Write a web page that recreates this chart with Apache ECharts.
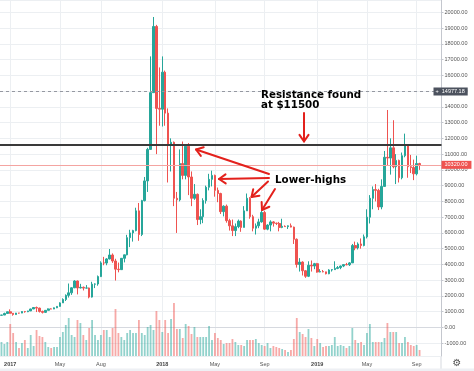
<!DOCTYPE html>
<html><head><meta charset="utf-8">
<script src="https://cdn.jsdelivr.net/npm/echarts@6/dist/echarts.min.js"></script>
<style>html,body{margin:0;padding:0;background:#fff}#c{width:474px;height:371px}</style>
</head><body><div id="c"></div>
<script>
// Weekly BTC/USD candles, first week starting 2016-12-12
const firstWeek = '2016-12-12';
const opens = [777,790,890,998,905,820,920,915,1015,998,1050,1175,1270,1230,1020,960,1090,1180,1170,1250,
1340,1560,1780,2040,2200,2520,2950,2510,2550,2500,2510,1930,2750,2760,3230,4100,4090,4350,4600,4220,
3700,3670,4390,4610,5700,6000,6150,7400,5900,8050,9300,11300,14900,19100,13900,13850,16200,13600,11600,11750,
8200,8100,10400,9650,11500,9550,8200,8450,6850,7030,8050,8900,9400,9650,8700,8500,7350,7700,6780,6450,
6150,6400,6750,6350,7400,8200,7030,6300,6450,6700,7300,6240,6500,6700,6620,6600,6350,6420,6400,6450,
6370,5600,4000,4150,3600,3250,3950,3900,4050,3520,3550,3530,3410,3650,3670,3750,3800,3900,3990,3980,
4100,5200,5050,5300,5200,5750,7000,8200,8750,8700,7650,8950,10800,10750,11400,10200,10600,9500,10900,11550,
10200,10150,9750,10400];
const highs = [800,940,1000,1150,910,925,925,1035,1050,1060,1190,1290,1330,1260,1070,1100,1210,1220,1270,1350,
1600,1850,2100,2790,2550,3000,2980,2770,2600,2690,2530,2900,2800,3300,4200,4480,4400,4980,4700,4360,
4120,4400,4620,5880,6200,6200,7600,7900,8100,9550,11400,17200,19700,19200,16500,17200,16300,13900,12000,11800,
8600,11300,11800,11600,11700,9900,9100,8500,7500,8200,9000,9750,9950,9700,8880,8550,7750,7800,6900,6850,
6600,6850,6800,7700,8500,8270,7150,6600,6900,7400,7400,6550,6800,6750,6650,6700,6900,6480,6480,6600,
6400,5650,4400,4200,3650,4200,4250,4100,4100,3700,3650,3540,3700,3700,4200,3900,3930,4000,4100,4150,
5300,5450,5400,5650,5900,7500,8400,8950,9100,8800,9400,11200,13800,12000,13150,11000,10650,11100,12300,11600,
10950,10650,10900,10450];
const lows = [765,790,880,880,750,815,880,910,940,975,1050,1170,980,950,890,920,1090,1160,1165,1230,
1330,1560,1680,1900,2070,2500,2100,2480,2350,2480,1850,1900,2500,2650,3200,3950,3950,4320,4100,2980,
3500,3660,4130,4580,5100,5450,6100,5500,5800,8000,8600,11300,14900,11000,12800,12750,12800,9200,9900,7700,
6000,8000,9400,9400,8400,7700,8100,6500,6550,6620,7860,8700,8950,8300,7950,7200,7050,6650,6150,5800,
5800,6300,6070,6350,7400,6900,6100,5900,6300,6650,6200,6170,6100,6400,6500,6100,6300,6380,6250,6350,
5300,3800,3550,3300,3150,3200,3550,3700,3480,3500,3500,3370,3380,3550,3650,3700,3700,3830,3950,3900,
4100,4900,4950,5000,5150,5650,6600,7500,8000,7450,7500,8950,10300,9700,10100,9100,9200,9400,10800,9500,
9800,9350,9650,10000];
const closes = [790,890,998,905,820,920,915,1015,998,1050,1175,1270,1230,1020,960,1090,1180,1170,1250,1340,
1560,1780,2040,2200,2520,2950,2510,2550,2500,2510,1930,2750,2760,3230,4100,4090,4350,4600,4220,3700,
3670,4390,4610,5700,6000,6150,7400,5900,8050,9300,11300,14900,19100,13900,13850,16200,13600,11600,11750,8200,
8100,10400,9650,11500,9550,8200,8450,6850,7030,8050,8900,9400,9650,8700,8500,7350,7700,6780,6450,6150,
6400,6750,6350,7400,8200,7030,6300,6450,6700,7300,6240,6500,6700,6620,6600,6350,6420,6400,6450,6370,
5600,4000,4150,3600,3250,3950,3900,4050,3520,3550,3530,3410,3650,3670,3750,3800,3900,3990,3980,4100,
5200,5050,5300,5200,5750,7000,8200,8750,8700,7650,8950,10800,10750,11400,10200,10600,9500,10900,11550,10200,
10150,9750,10400,10320];
// volume (relative units)
const volumes = [14,12,14,32,23,14,8,13,16,8,21,10,26,20,19,14,9,8,9,9,
19,24,31,38,21,19,36,33,21,16,28,36,21,16,21,26,26,19,28,47,
23,19,16,23,26,23,23,36,23,21,29,31,26,45,36,24,36,23,37,53,
27,27,18,32,30,22,29,19,19,19,19,30,16,23,18,16,12,13,13,17,
14,11,11,10,16,16,16,17,13,11,10,13,8,10,9,8,7,6,4,6,
17,38,24,22,19,27,18,10,17,13,9,10,10,11,19,10,11,10,8,10,
28,16,13,14,11,23,32,14,14,14,14,18,33,24,24,24,13,13,19,14,
11,10,11,6];
const tickLabels = [['2017-01-02','2017'],['2017-05-01','May'],['2017-08-07','Aug'],['2018-01-01','2018'],
['2018-05-07','May'],['2018-09-03','Sep'],['2019-01-07','2019'],['2019-05-06','May'],['2019-09-02','Sep']];
const resistanceLevel = 11600;
const crosshairPrice = 14977.18;
const lastPrice = 10320;
const emptyWeeksAfter = 7;

const UP = '#26a69a', DOWN = '#ef5350';
const dates = [];
const t0 = Date.UTC(2016, 11, 12);
for (let i = 0; i < opens.length + emptyWeeksAfter; i++) {
  dates.push(new Date(t0 + i * 7 * 86400000).toISOString().slice(0, 10));
}
const tickMap = new Map(tickLabels);
const ohlc = opens.map((o, i) => [o, closes[i], lows[i], highs[i]]);
const vol = volumes.map((v, i) => ({
  value: v,
  itemStyle: { color: closes[i] >= opens[i] ? 'rgba(38,166,154,0.5)' : 'rgba(239,83,80,0.5)' }
}));
const isTick = (idx, val) => tickMap.has(val);

const ARROW = '#e3211c';
function arrow(x1, y1, x2, y2) {
  const a = Math.atan2(y2 - y1, x2 - x1), L = 8, s = 0.6;
  const st = { stroke: ARROW, lineWidth: 2, fill: null, lineCap: 'round', lineJoin: 'round' };
  return [
    { type: 'polyline', shape: { points: [[x1, y1], [x2, y2]] }, style: st, z: 100 },
    { type: 'polyline', shape: { points: [
      [x2 - L * Math.cos(a - s), y2 - L * Math.sin(a - s)], [x2, y2],
      [x2 - L * Math.cos(a + s), y2 - L * Math.sin(a + s)]] }, style: st, z: 100 }
  ];
}

const chart = echarts.init(document.getElementById('c'));
chart.setOption({
  animation: false,
  backgroundColor: '#ffffff',
  grid: { left: -2.5, right: 32.5, top: 0, bottom: 15, containLabel: false },
  xAxis: {
    type: 'category', data: dates, boundaryGap: true,
    axisLine: { show: true, lineStyle: { color: '#d6d9df' } },
    axisTick: { show: false, alignWithLabel: true, interval: isTick },
    axisLabel: {
      interval: isTick, margin: 5, fontSize: 5.5, color: '#555', fontFamily: 'Liberation Sans',
      formatter: v => { const t = tickMap.get(v) || ''; return /^\d{4}$/.test(t) ? '{y|' + t + '}' : t; },
      rich: { y: { fontSize: 5.5, fontWeight: 'bold', color: '#444', fontFamily: 'Liberation Sans' } }
    },
    splitLine: { show: true, interval: isTick, alignWithLabel: true, lineStyle: { color: '#eceff2', width: 1 } }
  },
  yAxis: [{
    type: 'value', position: 'right', min: -1808, max: 20778, splitNumber: 22,
    axisLine: { show: true, lineStyle: { color: '#c4c7ce' } },
    axisTick: { show: true, length: 2, lineStyle: { color: '#c4c7ce' } },
    axisLabel: { fontSize: 5.5, color: '#555', margin: 3, fontFamily: 'Liberation Sans',
      showMinLabel: false, showMaxLabel: false, formatter: v => v.toFixed(2) },
    splitLine: { show: true, lineStyle: { color: '#eceff2', width: 1 } }
  }, {
    type: 'value', min: 0, max: 356, show: false, splitLine: { show: false }
  }],
  series: [{
    type: 'bar', yAxisIndex: 1, data: vol, barWidth: '62%', silent: true
  }, {
    type: 'candlestick', data: ohlc, barWidth: '70%', silent: true,
    itemStyle: { color: UP, color0: DOWN, borderColor: UP, borderColor0: DOWN, borderWidth: 1 },
    markLine: {
      symbol: ['none', 'none'], silent: true, animation: false,
      data: [
        { yAxis: lastPrice, lineStyle: { color: '#f4a4a1', width: 1, type: 'solid' },
          label: { show: true, position: 'end', distance: 0, formatter: lastPrice.toFixed(2),
            backgroundColor: DOWN, color: '#fff', fontSize: 5.5, fontFamily: 'Liberation Sans', padding: [1, 4, 1, 3] } },
        { yAxis: crosshairPrice, lineStyle: { color: '#9598a1', width: 1, type: [3, 3] },
          label: { show: true, position: 'end', distance: -8, formatter: '+  ' + crosshairPrice.toFixed(2),
            backgroundColor: '#4c525e', color: '#fff', fontSize: 5.5, fontFamily: 'Liberation Sans', padding: [1, 3, 1, 2] } },
        { yAxis: resistanceLevel, lineStyle: { color: '#3a3a3a', width: 1.8, type: 'solid' }, label: { show: false } }
      ]
    }
  }],
  graphic: [
    { type: 'text', x: 261, y: 90, z: 100, style: { text: 'Resistance found\nat $11500', font: 'bold 10.3px "DejaVu Sans"', fill: '#000', lineHeight: 10 } },
    { type: 'text', x: 275, y: 180, z: 100, style: { text: 'Lower-highs', font: 'bold 10.3px "DejaVu Sans"', fill: '#000', verticalAlign: 'middle' } },
    ...arrow(304, 113, 304, 141.5),
    ...arrow(269, 174, 196, 149.5),
    ...arrow(269, 178, 219, 179),
    ...arrow(268, 181.5, 251.5, 197),
    ...arrow(275, 189, 262, 210),
    { type: 'line', shape: { x1: 441, y1: 356, x2: 441, y2: 371 }, style: { stroke: '#d6d9df', lineWidth: 1 } },
    { type: 'rect', shape: { x: 0, y: 368.5, width: 474, height: 3 }, style: { fill: '#eef0f4' } },
    { type: 'text', x: 457, y: 363, style: { text: '\u2699', font: '10px "DejaVu Sans"', fill: '#555', align: 'center', verticalAlign: 'middle' } }
  ]
});
</script>
</body></html>
